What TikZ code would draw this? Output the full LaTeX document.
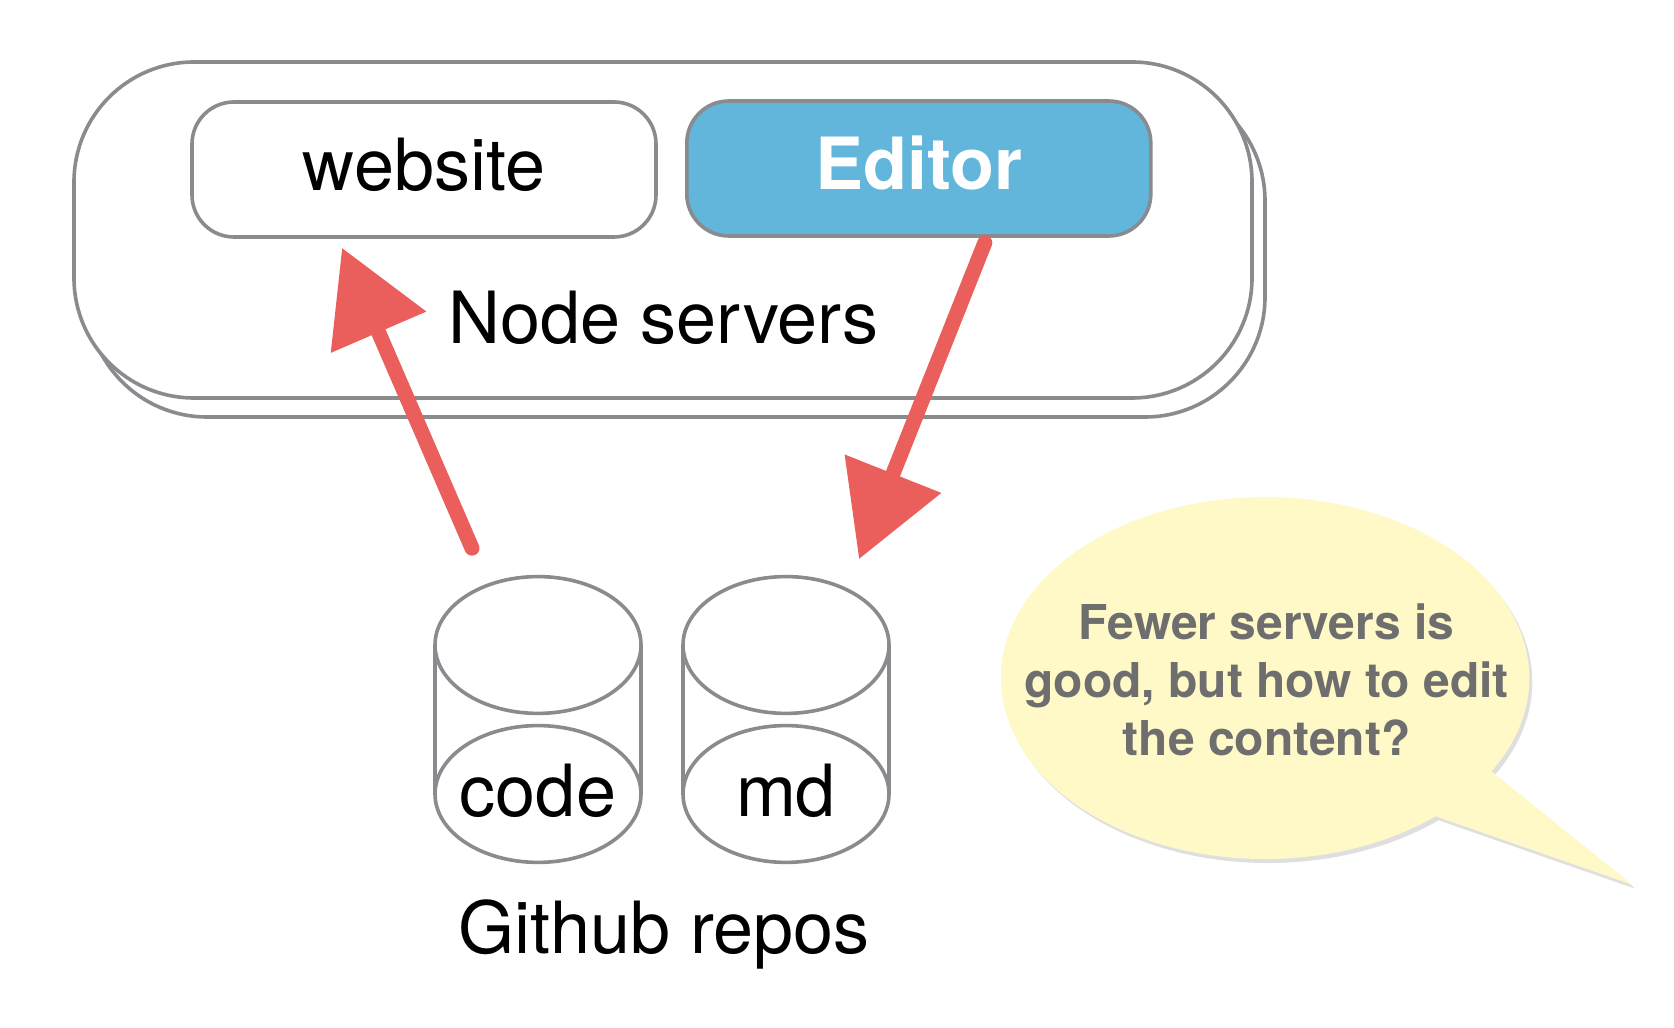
\documentclass[tikz,border=0pt]{standalone}
\usepackage{fontspec}
\setmainfont{TeX Gyre Heros}
\usetikzlibrary{arrows.meta,shapes.geometric,shadows}
\definecolor{linegray}{RGB}{137,139,143}
\definecolor{editorblue}{RGB}{98,181,219}
\definecolor{arrowred}{RGB}{234,94,91}
\definecolor{notefill}{RGB}{254,249,199}
\definecolor{notetext}{RGB}{110,110,110}
\begin{document}
\begin{tikzpicture}[
  big/.style={font=\fontsize{36bp}{40bp}\selectfont},
  outline/.style={draw=linegray,line width=1.8bp},
  server/.style={outline,fill=white,rounded corners=60bp,minimum width=589bp,minimum height=168bp},
  app/.style={outline,big,rounded corners=21bp,minimum width=232bp,minimum height=67.5bp,text height=25.5bp,text depth=4.5bp},
  repotop/.style={outline,fill=white,ellipse,minimum width=103bp,minimum height=68.4bp,inner sep=0pt},
  txt/.style={big,anchor=base,inner sep=0pt},
  flow/.style={arrowred,line width=7.5bp,line cap=round,-{Triangle[length=46bp,width=50bp]}}]
  \useasboundingbox (0bp,0bp) rectangle (837bp,514bp);
  % node servers
  \node (serversback) at (338bp,389.5bp) [server] {};
  \node (servers) at (331.5bp,399bp) [server] {};
  \node (website) at (212bp,429.25bp) [app] {website};
  \node (editor) at (459.4bp,429.75bp) [app,fill=editorblue,text=white,font=\bfseries\fontsize{36bp}{40bp}\selectfont] {Editor};
  \node (serverslabel) at (331.7bp,342bp) [txt] {Node servers};
  % github repos
  \draw [outline] (217.5bp,191.5bp) -- (217.5bp,117bp) (320.5bp,191.5bp) -- (320.5bp,117bp);
  \draw [outline,fill=white] (269bp,117bp) ellipse [x radius=51.5bp,y radius=34.2bp];
  \node (codetop) at (269bp,191.5bp) [repotop] {};
  \node (code) at (269bp,105.5bp) [txt] {code};
  \draw [outline] (341.5bp,191.5bp) -- (341.5bp,117bp) (444.5bp,191.5bp) -- (444.5bp,117bp);
  \draw [outline,fill=white] (393bp,117bp) ellipse [x radius=51.5bp,y radius=34.2bp];
  \node (mdtop) at (393bp,191.5bp) [repotop] {};
  \node (md) at (393bp,105.5bp) [txt] {md};
  \node (repos) at (332bp,37.2bp) [txt] {Github repos};
  % arrows
  \draw [flow] ([xshift=-33bp,yshift=13.3bp]codetop.north) -- ([xshift=-41bp,yshift=-4.5bp]website.south);
  \draw [flow] ([xshift=33bp,yshift=-2.5bp]editor.south) -- ([xshift=36.5bp,yshift=7.8bp]mdtop.north);
  % speech bubble
  \path [fill=notefill,drop shadow={shadow xshift=1.5bp,shadow yshift=-2bp,opacity=0.25}] (745.7bp,128.3bp) arc [start angle=-31.05,end angle=310.2,x radius=132.1bp,y radius=90.5bp] -- (816.2bp,71.6bp) -- cycle;
  \node (note) at (633.3bp,174bp) [font=\bfseries\fontsize{24bp}{29bp}\selectfont,text=notetext,align=center] {Fewer servers is\\good, but how to edit\\the content?};
\end{tikzpicture}
\end{document}
